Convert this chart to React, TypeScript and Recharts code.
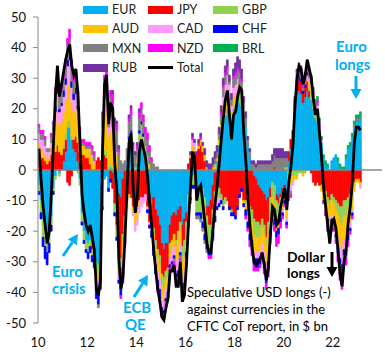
import { ComposedChart, Bar, Line, XAxis, YAxis, ReferenceLine } from 'recharts';

const START_YEAR = 2010;
const FONT = 'Lato, "Open Sans", sans-serif';

const currencies = ['EUR', 'JPY', 'GBP', 'AUD', 'CAD', 'CHF', 'MXN', 'NZD', 'BRL', 'RUB'];
const currencyColors = ['#00B0F0', '#FF0000', '#92D050', '#FFC000', '#FF99FF', '#0000FF', '#808080', '#FF00FF', '#00B050', '#7030A0'];
const yearTicks = [2010, 2012, 2014, 2016, 2018, 2020, 2022];
const valueTicks = [-50, -40, -30, -20, -10, 0, 10, 20, 30, 40, 50];

// monthly positions, $ bn, Jan 2010 .. Feb 2023
const EUR = [
  -5, -10, -16, -19, -21, -20, -15, -6, -2, 0, -1, 0,
  3, 6, 14, 14, 10, 7, 6, 3, -3, -14, -20, -23,
  -24, -23, -24, -27, -30, -31, -28, -12, -3, -2, -6, 1,
  -1, -4, -6, -8, -9, -3, 0, 3, 9, 10, 2, 0,
  2, 8, 10, 6, 3, -3, -8, -11, -9, -13, -15, -18,
  -24, -26, -24, -24, -18, -15, -14, -15, -13, -12, -18, -16,
  -14, -8, -5, -2, -1, -8, -6, -5, -6, -9, -12, -12,
  -10, -5, -1, 3, 8, 12, 16, 18, 20, 18, 14, 20,
  21, 23, 22, 21, 17, 14, 8, 4, 0, -2, -3, -5,
  -6, -7, -8, -10, -9, -6, -4, -5, -8, -9, -8, -6,
  -5, -10, 3, 7, 9, 20, 25, 26, 25, 22, 24, 26,
  24, 23, 20, 17, 16, 11, 9, 4, 2, 1, 0, 3,
  4, 5, 3, 1, 0, 0, 4, 7, 8, 11, 14, 16,
  16, 17,
];
const JPY = [
  5, 4, 4, 3, 2, 3, 5, 7, 6, 8, 6, 5,
  4, 4, -4, -5, -2, 3, 5, 6, 6, 5, 5, 4,
  4, 2, -2, 0, 3, 4, 3, 4, 5, 4, 0, -3,
  -5, -7, -12, -18, -20, -18, -15, -10, -8, -9, -12, -14,
  -12, -10, -9, -9, -8, -9, -9, -8, -10, -10, -11, -10,
  -10, -9, -9, -8, -6, -8, -7, -8, -7, -5, -7, -7,
  -3, 2, 4, 6, 6, 5, 7, 8, 6, 3, -3, -6,
  -8, -8, -6, -5, -6, -8, -10, -9, -10, -12, -13, -14,
  -15, -12, -8, -6, -10, -10, -10, -12, -13, -14, -14, -12,
  -12, -9, -10, -12, -8, -3, 0, 1, -2, -2, -1, -2,
  -2, -2, 3, 3, 3, 2, 3, 4, 4, 3, 3, 3,
  2, -1, -4, -5, -4, -5, -5, -6, -7, -9, -10, -8,
  -9, -10, -11, -12, -12, -10, -10, -9, -8, -6, -4, -3,
  -3, -4,
];
const GBP = [
  -2, -4, -6, -6, -6, -4, -3, -1, -1, 1, -1, 0,
  1, 2, 2, 3, 1, 0, 0, -1, -2, -3, -3, -3,
  -3, -2, -2, -2, -4, -3, -3, 1, 2, 2, 1, 1,
  0, -3, -4, -5, -3, -2, -1, 0, 1, 2, 1, 1,
  2, 4, 5, 4, 4, 5, 1, 0, -2, -3, -3, -3,
  -4, -4, -3, -3, -2, 0, 0, -2, -3, -3, -5, -5,
  -4, -5, -4, -3, -4, -6, -8, -9, -10, -10, -8, -7,
  -7, -6, -6, -4, -3, -2, -2, -2, 0, 1, -1, 0,
  1, 3, 4, 4, 1, -1, -3, -4, -4, -5, -5, -5,
  -4, -3, -3, -3, -4, -5, -5, -6, -5, -3, -2, -1,
  1, 1, -2, -2, -2, -2, -2, -1, -1, -1, -1, 0,
  1, 2, 2, 2, 2, 1, 0, -1, -2, -2, -3, -2,
  -2, -3, -4, -5, -6, -5, -5, -4, -4, -3, -1, 0,
  0, 0,
];
const AUD = [
  4, 3, 3, 2, 2, 1, 2, 4, 9, 11, 9, 11,
  11, 11, 12, 13, 11, 9, 10, 8, 5, 3, 3, 3,
  3, 4, 4, 2, -3, -2, -2, 6, 12, 13, 10, 11,
  10, 6, 5, -3, -4, -6, -4, -2, -1, 0, -2, -4,
  -4, -2, 0, 1, 1, 0, 1, 0, -2, -3, -4, -5,
  -4, -4, -3, -3, -3, -4, -4, -5, -6, -4, -5, -5,
  -3, -1, 1, 2, 1, 0, 1, 2, 2, 2, 1, 0,
  0, 1, 2, 1, 2, 3, 5, 6, 7, 6, 5, 4,
  3, 2, 1, 0, -1, -2, -3, -4, -5, -6, -5, -5,
  -5, -5, -6, -6, -6, -5, -4, -5, -5, -5, -4, -4,
  -3, -4, -4, -3, -2, -1, -1, 0, 0, -1, 0, 1,
  2, 2, 1, 0, 1, 0, -2, -3, -4, -5, -6, -5,
  -5, -6, -7, -8, -9, -8, -8, -6, -5, -4, -2, -1,
  -1, -1,
];
const CAD = [
  3, 3, 3, 3, 2, 2, 2, 2, 4, 5, 4, 5,
  5, 5, 6, 6, 5, 4, 4, 3, 1, 0, 0, 0,
  0, 1, 1, 1, -1, -3, -1, 3, 4, 5, 3, 4,
  4, 2, 1, -2, -2, -3, -2, -1, 0, 0, -1, -2,
  -2, -2, -3, -2, -2, -1, -1, -1, -2, -2, -3, -3,
  -3, -3, -3, -2, -2, -3, -3, -4, -4, -3, -4, -4,
  -3, -2, 0, 2, 2, 0, 0, 0, -1, -2, -1, -1,
  -1, -1, -2, -3, -2, 0, 3, 4, 4, 3, 2, 3,
  3, 2, 1, 0, 0, 0, -1, -1, -1, -2, -2, -2,
  -2, -3, -3, -3, -3, -1, 0, 0, 0, 0, 0, -1,
  0, -1, -2, -2, -1, 0, 0, 0, 0, 0, 0, 1,
  1, 1, 1, 1, 2, 2, 1, 0, 0, 0, -1, -1,
  -1, -2, -3, -4, -4, -3, -3, -2, -2, -1, 0, 0,
  0, -1,
];
const CHF = [
  -1, -2, -3, -4, -4, -3, -2, -1, 2, 2, 1, 1,
  2, 2, 2, 2, 2, 2, 2, 1, 0, -1, -1, -1,
  -2, -2, -2, -3, -4, -5, -5, -1, 0, 0, -1, -1,
  0, -1, -1, -1, -3, -3, -2, 0, 1, 1, 0, 0,
  0, 1, 1, 1, 0, -1, -1, -2, -3, -3, -3, -3,
  -2, -1, -1, -1, -1, -1, -1, -1, -2, -1, -2, -2,
  -2, -1, -1, -1, -1, -1, -1, -2, -2, -2, -2, -2,
  -2, -2, -2, -1, -1, -1, -1, 0, 0, -1, -1, -1,
  -1, -1, -1, -1, -1, -2, -2, -2, -3, -2, -3, -3,
  -2, -2, -2, -3, -3, -2, -2, -2, -2, -2, -2, -1,
  -1, -1, 0, 0, 0, 1, 1, 1, 1, 1, 1, 1,
  0, 0, 0, 0, 0, 0, 0, 0, 0, -1, -1, -1,
  -1, -1, -2, -2, -3, -2, -2, -2, -1, -1, 0, 0,
  0, 0,
];
const MXN = [
  2, 2, 2, 2, 1, 1, 2, 2, 4, 4, 4, 4,
  4, 4, 5, 5, 5, 4, 4, 3, 1, 1, 1, 1,
  1, 1, 2, 2, 0, -1, 0, 3, 6, 6, 5, 7,
  8, 6, 7, 6, 3, 2, 3, 4, 5, 5, 4, 4,
  3, 4, 4, 4, 4, 5, 4, 3, 2, 1, 1, 0,
  0, -1, -1, 0, 0, -1, -1, -2, -2, -1, -1, -1,
  -1, -1, -1, 0, 0, -1, -1, -1, -1, -1, -1, 0,
  0, 1, 2, 2, 2, 3, 3, 3, 2, 1, 2, 3,
  3, 3, 4, 4, 4, 3, 2, 2, 2, 2, 1, 2,
  2, 2, 2, 2, 2, 2, 3, 4, 4, 4, 4, 4,
  3, 3, -1, -1, 0, 0, 1, 1, 1, 1, 1, 1,
  1, 1, 1, 1, 1, 1, 0, 0, 0, -1, -1, -1,
  -1, -1, -1, -2, -2, -1, -1, 0, 0, 0, 1, 1,
  1, 1,
];
const NZD = [
  1, 1, 1, 1, 0, 0, 1, 1, 2, 3, 2, 2,
  2, 2, 2, 3, 2, 2, 2, 2, 1, 1, 1, 1,
  1, 1, 1, 1, 0, 0, 0, 2, 2, 3, 3, 2,
  3, 2, 2, 1, -1, -2, -1, 0, 1, 2, 1, 0,
  1, 2, 2, 2, 2, 2, 2, 1, 0, 0, -1, -1,
  -1, -1, -1, -1, -1, -1, -1, -1, -1, -1, -1, -1,
  -1, -1, 0, 1, 0, 0, 1, 1, 0, 0, 0, -1,
  -1, -1, 0, 0, 0, 1, 1, 1, 1, 0, 0, 1,
  1, 1, 1, 1, 0, -1, -1, -2, -2, -2, -1, -1,
  -1, -1, -2, -2, -2, -2, -2, -2, -3, -3, -2, -1,
  -1, -1, -1, -1, 0, 0, 1, 1, 1, 1, 1, 1,
  1, 1, 1, 1, 1, 1, 0, 0, -1, -1, -1, -1,
  -1, -1, -2, -3, -3, -2, -2, -2, -1, -1, 0, 0,
  0, 0,
];
const BRL = [
  0, 0, 0, 0, 0, 0, 0, 0, 0, 0, 0, 0,
  0, 0, 0, 0, 0, 0, 0, 0, 0, 0, 0, 0,
  0, 0, 0, 0, 0, 0, 0, 0, 0, 0, 0, 0,
  0, 0, 0, 0, 0, 0, 0, 0, 0, 0, 0, 0,
  0, 0, 0, 0, 0, 0, 0, 0, 0, 0, 0, 0,
  0, 0, 0, 0, 0, 0, 0, 0, 0, 0, 0, 0,
  0, 0, 0, 0, 0, 0, 0, 0, 0, 0, 0, 0,
  0, 0, 0, 0, 0, 0, 0, 0, 0, 0, 0, 0,
  0, 0, 0, 0, 0, 0, 0, 0, 0, 0, 0, 0,
  0, 0, 0, 0, 0, 0, 0, 0, 0, 0, 0, 0,
  0, 0, 0, 0, 0, 0, 1, 1, 1, 1, 1, 1,
  1, 1, 1, 1, 1, 1, 1, 1, 1, 1, 0, 0,
  0, 0, 1, 1, 1, 1, 1, 1, 1, 1, 1, 1,
  1, 1,
];
const RUB = [
  0, 0, 0, 0, 0, 0, 0, 0, 0, 0, 0, 0,
  0, 0, 0, 0, 0, 0, 0, 0, 0, 0, 0, 0,
  0, 0, 0, 0, 0, 0, 0, 0, 0, 0, 0, 0,
  1, 1, 1, 1, 0, 0, 0, 0, 1, 1, 1, 1,
  1, 1, 0, 0, 0, 0, 0, 0, 0, 0, 0, 0,
  0, 0, 0, 0, 0, 0, 0, 0, 0, 0, 0, 0,
  0, 0, 1, 1, 1, 1, 1, 1, 1, 2, 2, 2,
  2, 2, 2, 2, 2, 2, 2, 2, 2, 2, 2, 2,
  3, 3, 3, 3, 2, 2, 1, 1, 1, 1, 1, 1,
  1, 1, 1, 1, 1, 1, 2, 2, 3, 3, 3, 3,
  2, 2, 0, 0, 1, 1, 1, 1, 1, 1, 1, 1,
  0, 0, 0, 0, 0, 0, 0, -1, -1, -1, -1, -1,
  0, 0, 0, 0, 0, 0, 0, 0, 0, 0, 0, 0,
  0, 0,
];
const Total = [
  7, -3, -12, -18, -24, -20, -8, 8, 24, 34, 24, 28,
  32, 36, 39, 41, 34, 31, 33, 25, 9, -8, -14, -18,
  -20, -18, -22, -26, -39, -41, -36, 6, 28, 31, 15, 22,
  20, 2, -7, -29, -39, -35, -22, -6, 9, 12, -6, -14,
  -9, 6, 10, 7, 4, -2, -11, -18, -26, -33, -39, -43,
  -48, -49, -45, -42, -33, -33, -31, -38, -38, -30, -43, -41,
  -31, -17, -5, 6, 4, -10, -6, -5, -11, -17, -24, -27,
  -27, -19, -11, -5, 2, 10, 17, 23, 26, 18, 10, 18,
  19, 24, 27, 26, 12, 3, -9, -18, -25, -30, -31, -30,
  -29, -27, -31, -36, -32, -21, -12, -13, -18, -17, -12, -9,
  -6, -13, -4, 1, 8, 21, 30, 34, 33, 28, 31, 36,
  33, 30, 23, 18, 20, 12, 4, -6, -12, -18, -24, -17,
  -16, -19, -26, -34, -38, -30, -26, -17, -12, -4, 9, 14,
  14, 13,
];

const seriesValues: Record<string, number[]> = { EUR, JPY, GBP, AUD, CAD, CHF, MXN, NZD, BRL, RUB };

const data = Total.map((total, i) => {
  const row: Record<string, number> = { date: START_YEAR + (i + 0.5) / 12, Total: total };
  currencies.forEach((c) => {
    row[c] = seriesValues[c][i];
  });
  return row;
});

const legendItems = [...currencies, 'Total'];

function LegendGrid() {
  return (
    <div
      style={{
        position: 'absolute',
        left: 83,
        top: 0,
        display: 'grid',
        gridTemplateColumns: '65px 65px 65px',
        fontFamily: FONT,
        fontSize: 12.5,
        color: '#222',
      }}
    >
      {legendItems.map((name, i) => (
        <div key={name} style={{ display: 'flex', alignItems: 'center', height: 19.3 }}>
          {name === 'Total' ? (
            <span style={{ width: 25, height: 3, background: '#000' }} />
          ) : (
            <span style={{ width: 25, height: 8, background: currencyColors[i] }} />
          )}
          <span style={{ marginLeft: 4 }}>{name}</span>
        </div>
      ))}
    </div>
  );
}

function Arrow({ x1, y1, x2, y2, color }: { x1: number; y1: number; x2: number; y2: number; color: string }) {
  const a = Math.atan2(y2 - y1, x2 - x1);
  const len = 10;
  const half = 5.5;
  const bx = x2 - len * Math.cos(a);
  const by = y2 - len * Math.sin(a);
  const px = -Math.sin(a) * half;
  const py = Math.cos(a) * half;
  return (
    <g>
      <line x1={x1} y1={y1} x2={bx} y2={by} stroke={color} strokeWidth={3} />
      <polygon points={`${x2},${y2} ${bx + px},${by + py} ${bx - px},${by - py}`} fill={color} />
    </g>
  );
}

function Annotations() {
  const blue = '#00B0F0';
  return (
    <svg
      width={385}
      height={355}
      style={{ position: 'absolute', left: 0, top: 0, pointerEvents: 'none', fontFamily: FONT }}
    >
      <g fill={blue} fontWeight="bold" fontSize={15}>
        <text x={336} y={52}>Euro</text>
        <text x={335} y={70}>longs</text>
        <text x={52} y={277}>Euro</text>
        <text x={52} y={294}>crisis</text>
        <text x={123} y={313}>ECB</text>
        <text x={125} y={330}>QE</text>
      </g>
      <Arrow x1={356} y1={76} x2={356} y2={99} color={blue} />
      <Arrow x1={63} y1={256} x2={78} y2={234} color={blue} />
      <Arrow x1={134} y1={297} x2={148} y2={275} color={blue} />
      <g fill="#000" fontWeight="bold" fontSize={14}>
        <text x={287} y={262}>Dollar</text>
        <text x={287} y={278}>longs</text>
      </g>
      <Arrow x1={332} y1={252} x2={332} y2={277} color="#000" />
      <g fill="#000" fontSize={13}>
        <text x={187} y={297}>Speculative USD longs (-)</text>
        <text x={187} y={314}>against currencies in the</text>
        <text x={187} y={331}>CFTC CoT report, in $ bn</text>
      </g>
    </svg>
  );
}

export default function App() {
  return (
    <div style={{ position: 'absolute', left: 0, top: 0, width: 385, height: 355, background: '#fff' }}>
      <ComposedChart
        width={385}
        height={355}
        data={data}
        stackOffset="sign"
        margin={{ top: 17, right: 3, bottom: 0, left: 0 }}
      >
        <XAxis
          dataKey="date"
          type="number"
          domain={[2010, 2024]}
          ticks={yearTicks}
          tickFormatter={(v: number) => String(v).slice(2)}
          axisLine={false}
          tickLine={false}
          tickMargin={9}
          height={32}
          tick={{ fontSize: 13, fill: '#111', fontFamily: FONT }}
        />
        <YAxis
          type="number"
          domain={[-50, 50]}
          ticks={valueTicks}
          width={38}
          tickSize={5}
          tickMargin={7}
          axisLine={{ stroke: '#888' }}
          tickLine={{ stroke: '#888' }}
          tick={{ fontSize: 13, fill: '#111', fontFamily: FONT }}
        />
        <ReferenceLine y={0} stroke="#888" strokeWidth={1.5} />
        {currencies.map((c, i) => (
          <Bar
            key={c}
            dataKey={c}
            stackId="a"
            fill={currencyColors[i]}
            stroke={currencyColors[i]}
            strokeWidth={0.8}
            barSize={3}
            isAnimationActive={false}
          />
        ))}
        <Line
          type="linear"
          dataKey="Total"
          stroke="#000"
          strokeWidth={2.8}
          dot={false}
          isAnimationActive={false}
        />
      </ComposedChart>
      <LegendGrid />
      <Annotations />
    </div>
  );
}
